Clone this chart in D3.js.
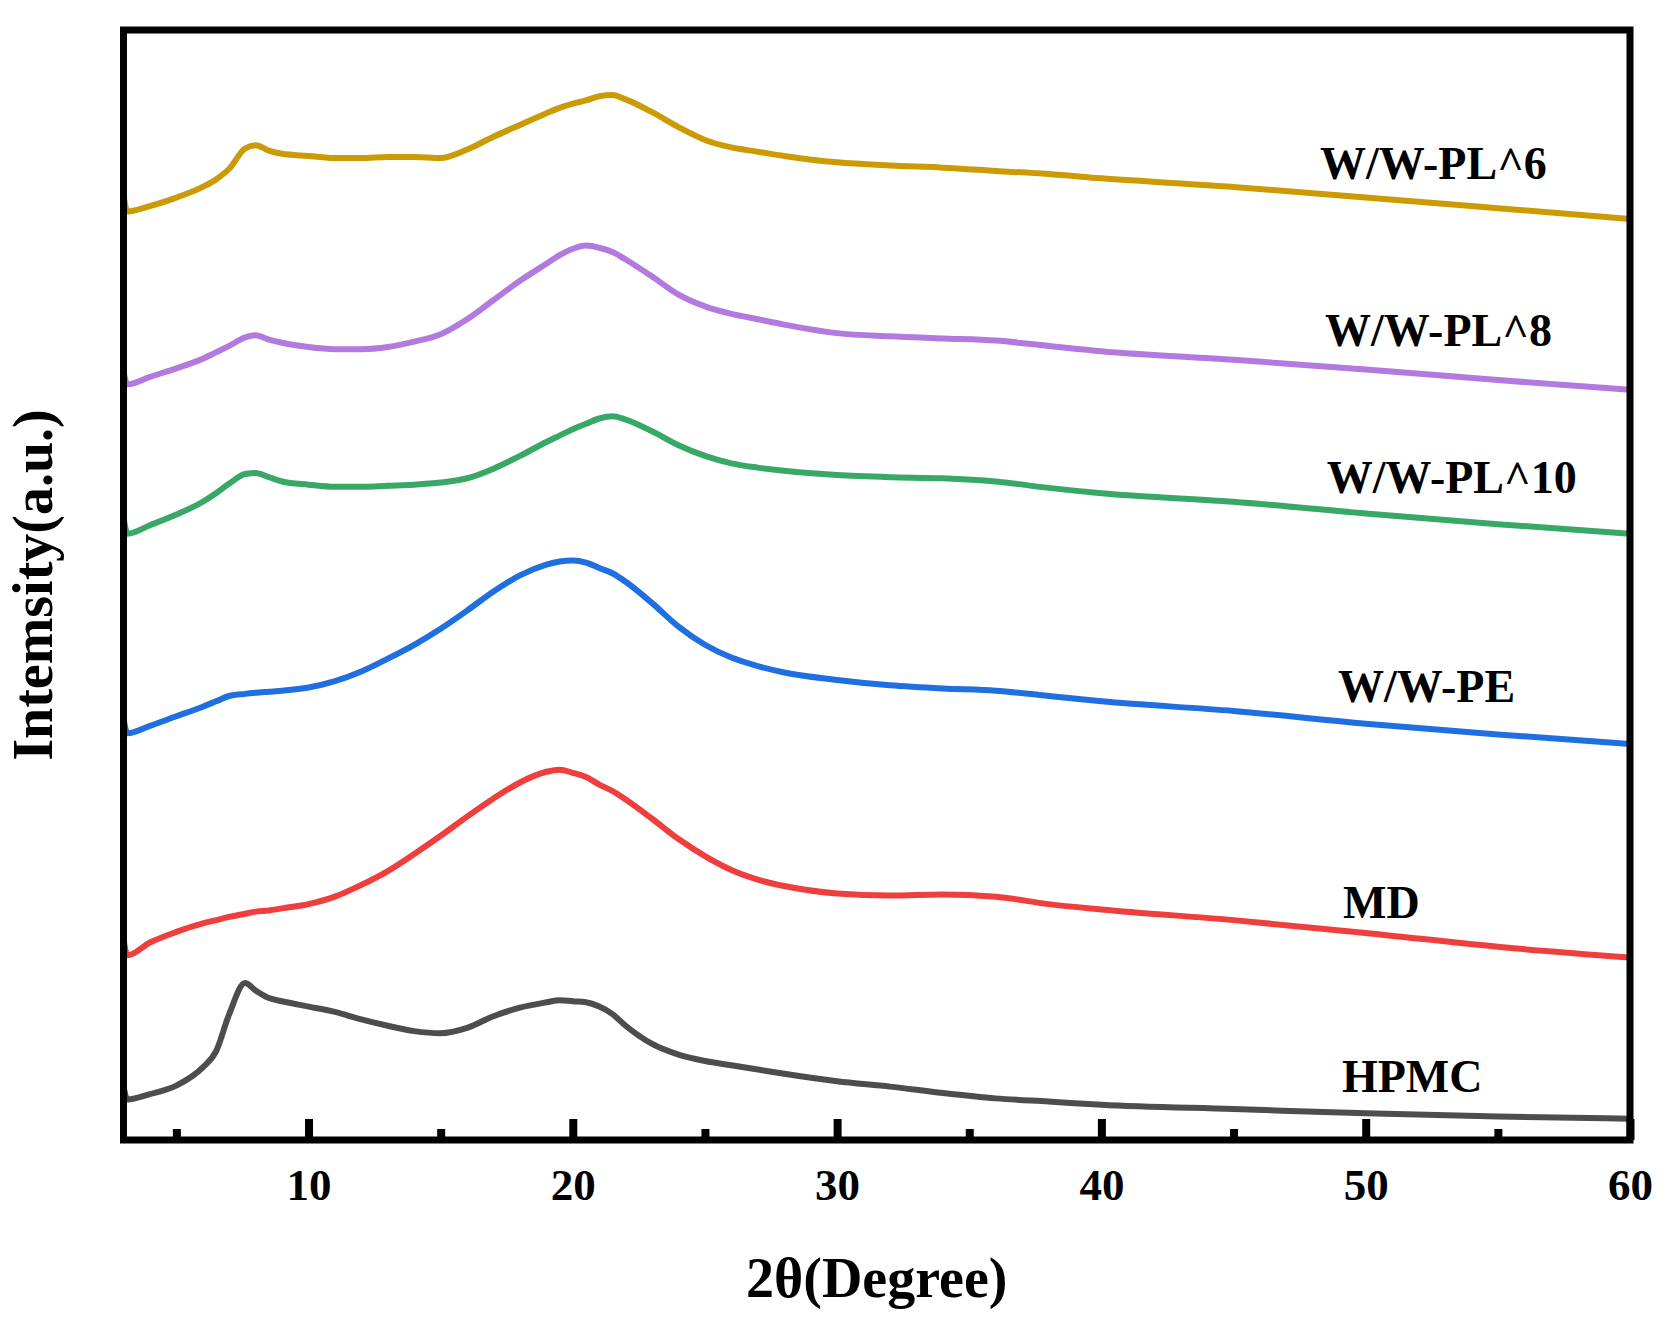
<!DOCTYPE html>
<html>
<head>
<meta charset="utf-8">
<script src="https://cdn.jsdelivr.net/npm/d3@7"></script>
<style>
  html, body { margin: 0; padding: 0; background: #fff; }
  svg { display: block; }
  text { font-family: "Liberation Serif", "Times New Roman", serif; font-weight: bold; fill: #000; }
</style>
</head>
<body>
<svg id="chart" width="1674" height="1320"></svg>
<script>
// ---- data (intensity in arbitrary units, stacked offsets) ----
const twoTheta = [3, 3.15, 4, 5, 6, 6.5, 7, 7.6, 8, 8.5, 9, 10, 11, 12, 13, 14, 15, 16, 17, 18, 19, 19.5, 20, 20.5, 21, 21.5, 22, 23, 24, 25, 26, 27, 28, 30, 32, 34, 36, 38, 40, 45, 50, 55, 60];

const hpmc = [50, 38, 43, 51, 68, 83, 118, 147, 140, 133, 130, 125, 120, 113, 107, 102, 100, 105, 116, 124, 129, 131, 130, 129, 125, 118, 107, 90, 80, 74, 70, 66, 62, 55, 50, 44, 39, 36, 33, 29, 25, 22, 20];
const md = [188, 173, 185, 195, 203, 206, 209, 212, 214, 215, 217, 221, 228, 239, 252, 268, 285, 303, 320, 335, 345, 347, 344, 340, 333, 327, 319, 301, 282, 266, 253, 244, 238, 231, 229, 230, 228, 221, 216, 206, 194, 181, 171];
const wwPE = [395, 381, 388, 397, 406, 411, 416, 418, 419, 420, 421, 424, 430, 439, 451, 464, 479, 496, 514, 529, 539, 542, 543, 541, 536, 531, 523, 503, 481, 464, 452, 444, 438, 431, 426, 423, 421, 416, 411, 402, 390, 380, 371];
const wwPL10 = [584, 568, 576, 586, 598, 606, 615, 624, 625, 621, 617, 614, 612, 612, 613, 614, 616, 620, 629, 641, 654, 660, 666, 671, 676, 678, 675, 664, 651, 641, 634, 630, 627, 623, 621, 620, 617, 611, 606, 598, 587, 577, 568];
const wwPL8 = [720, 708, 715, 723, 732, 738, 744, 752, 754, 750, 747, 743, 741, 741, 743, 748, 755, 769, 787, 805, 821, 829, 835, 838, 836, 832, 825, 809, 792, 781, 774, 769, 764, 756, 753, 751, 749, 744, 739, 731, 722, 712, 703];
const wwPL6 = [885, 870, 875, 883, 893, 900, 910, 929, 932, 927, 924, 922, 920, 920, 921, 921, 920, 928, 940, 951, 962, 967, 971, 974, 978, 979, 975, 963, 949, 937, 930, 926, 922, 916, 913, 911, 908, 905, 901, 893, 883, 873, 863];

const seriesNames = ["HPMC", "MD", "W/W-PE", "W/W-PL^10", "W/W-PL^8", "W/W-PL^6"];
const seriesValues = [hpmc, md, wwPE, wwPL10, wwPL8, wwPL6];
const seriesColors = ["#4d4d4d", "#ef3e3e", "#1f6fe0", "#38a866", "#b27ade", "#cc9a04"];
// label anchor: [2θ position of left edge, intensity of baseline]
const labelPos = [[49.1, 45], [49.14, 208], [48.95, 410], [48.53, 606], [48.46, 744], [48.27, 900]];

const majorTicks = [10, 20, 30, 40, 50, 60];
const minorTicks = [5, 15, 25, 35, 45, 55];
const xDomain = [3, 60];
const yDomain = [0, 1040];

// ---- layout ----
const L = 123.5, R = 1630, T = 30, B = 1140;
const svg = d3.select("#chart");
const x = d3.scaleLinear().domain(xDomain).range([L, R]);
const y = d3.scaleLinear().domain(yDomain).range([B, T]);

const line = d3.line()
  .x(d => x(d[0]))
  .y(d => y(d[1]))
  .curve(d3.curveMonotoneX);

seriesValues.forEach((vals, i) => {
  svg.append("path")
    .datum(twoTheta.map((t, j) => [t, vals[j]]))
    .attr("fill", "none")
    .attr("stroke", seriesColors[i])
    .attr("stroke-width", 6)
    .attr("stroke-linejoin", "round")
    .attr("d", line);
});

// series labels
seriesNames.forEach((name, i) => {
  svg.append("text")
    .attr("x", x(labelPos[i][0]))
    .attr("y", y(labelPos[i][1]))
    .attr("font-size", 46)
    .text(name);
});

// frame
svg.append("rect")
  .attr("x", L).attr("y", T)
  .attr("width", R - L).attr("height", B - T)
  .attr("fill", "none")
  .attr("stroke", "#000")
  .attr("stroke-width", 7);

// bottom axis: major ticks with labels
const gMajor = svg.append("g")
  .attr("transform", `translate(0,${B})`)
  .call(d3.axisBottom(x).tickValues(majorTicks).tickSize(-21).tickPadding(28).tickFormat(d3.format("d")));
gMajor.select(".domain").remove();
gMajor.selectAll(".tick line").attr("stroke", "#000").attr("stroke-width", 8);
gMajor.selectAll(".tick text")
  .attr("font-size", 45)
  .attr("font-family", "Liberation Serif, Times New Roman, serif")
  .attr("font-weight", "bold")
  .attr("fill", "#000");

// minor ticks
const gMinor = svg.append("g")
  .attr("transform", `translate(0,${B})`)
  .call(d3.axisBottom(x).tickValues(minorTicks).tickSize(-11).tickFormat(""));
gMinor.select(".domain").remove();
gMinor.selectAll(".tick line").attr("stroke", "#000").attr("stroke-width", 8);

// axis titles
svg.append("text")
  .attr("x", (L + R) / 2)
  .attr("y", 1297)
  .attr("text-anchor", "middle")
  .attr("font-size", 56)
  .text("2θ(Degree)");

svg.append("text")
  .attr("transform", `translate(52,${(T + B) / 2}) rotate(-90)`)
  .attr("text-anchor", "middle")
  .attr("font-size", 56)
  .text("Intemsity(a.u.)");
</script>
</body>
</html>
